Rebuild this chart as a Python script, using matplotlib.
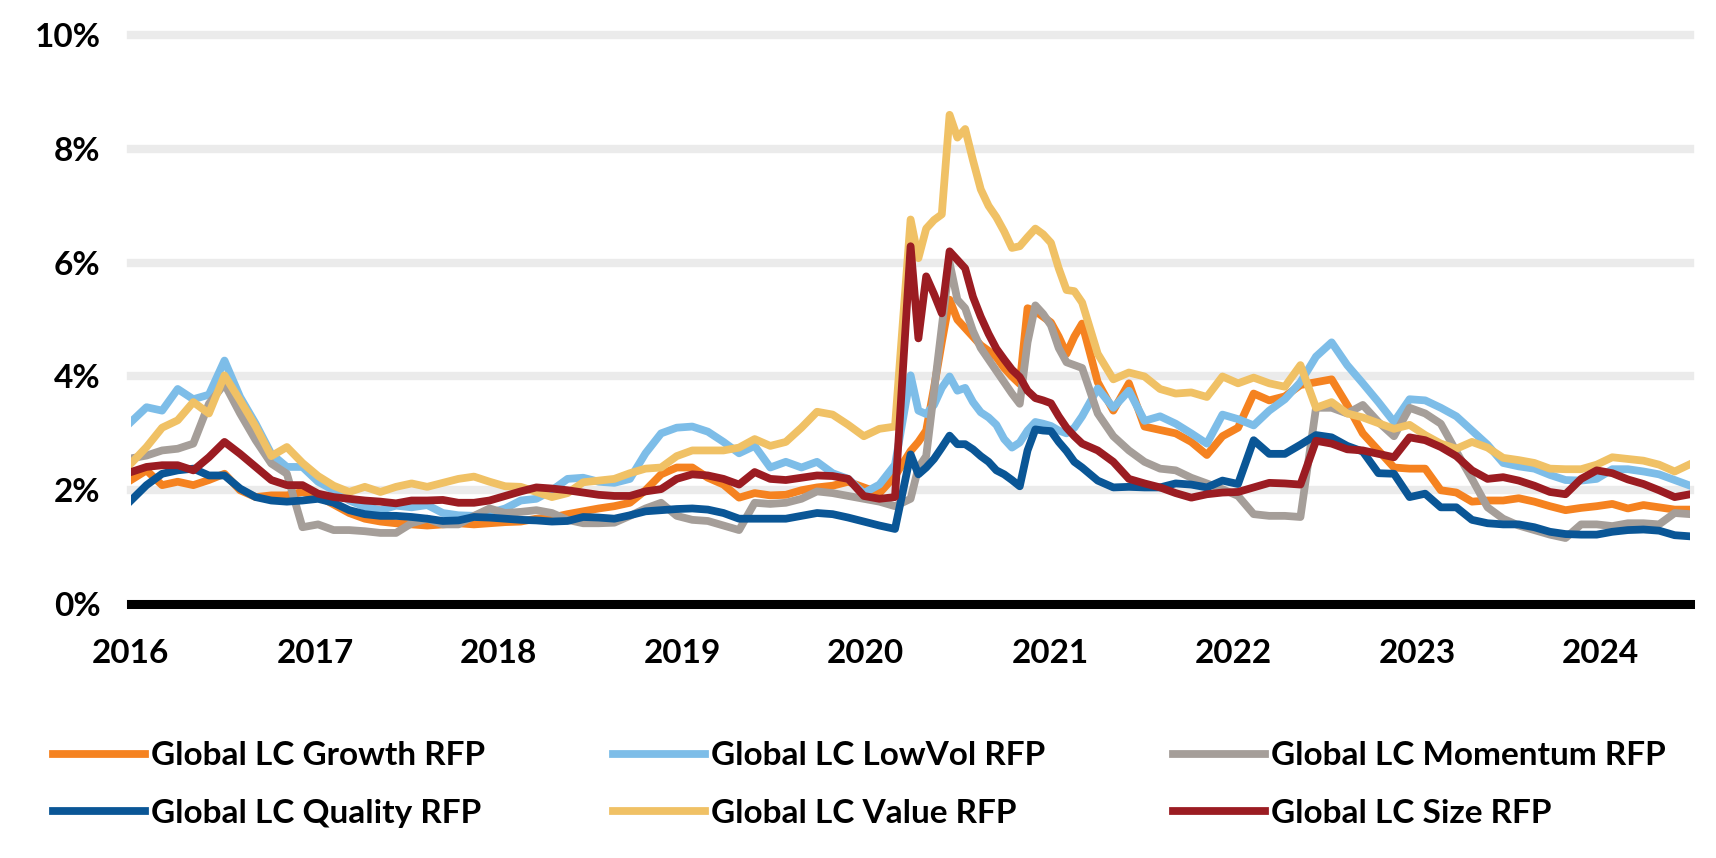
import numpy as np
import pandas as pd
import matplotlib
matplotlib.use("Agg")
import matplotlib.pyplot as plt
import matplotlib.dates as mdates

plt.rcParams["font.family"] = ["Lato", "DejaVu Sans"]
plt.rcParams["font.weight"] = "bold"

# observation steps of 31 days from 1 Jan 2016, half steps around the 2020 spike
steps = (list(range(0, 50))
         + [50, 50.5, 51, 51.5, 52, 52.5, 53, 53.5, 54, 54.5, 55, 55.5,
            56, 56.5, 57, 57.5, 58, 58.5, 59, 59.5, 60, 60.5, 61]
         + list(range(62, 101)))

growth = [
    2.18, 2.35, 2.09, 2.15, 2.09, 2.18, 2.29, 2.00, 1.88, 1.91,
    1.91, 1.97, 1.90, 1.75, 1.60, 1.50, 1.45, 1.42, 1.40, 1.38,
    1.40, 1.42, 1.40, 1.42, 1.44, 1.45, 1.50, 1.52, 1.58, 1.63,
    1.68, 1.72, 1.78, 2.00, 2.28, 2.40, 2.40, 2.22, 2.10, 1.87,
    1.95, 1.91, 1.92, 2.00, 2.05, 2.08, 2.15, 2.05, 1.95, 2.25,
    2.69, 2.85, 3.05, 3.80, 4.60, 5.35, 5.00, 4.85, 4.70, 4.55, 4.45, 4.34,
    4.15, 4.00, 3.87, 5.20, 5.15, 5.05, 4.95, 4.70, 4.40, 4.70, 4.93,
    3.90, 3.40, 3.88, 3.12, 3.06, 3.00, 2.85, 2.62, 2.95, 3.10,
    3.70, 3.58, 3.65, 3.85, 3.90, 3.95, 3.50, 3.00, 2.70, 2.40,
    2.38, 2.38, 2.00, 1.96, 1.80, 1.82, 1.82, 1.86, 1.80, 1.72,
    1.65, 1.69, 1.72, 1.76, 1.68, 1.74, 1.70, 1.66, 1.66]

lowvol = [
    3.20, 3.46, 3.40, 3.78, 3.60, 3.68, 4.28, 3.64, 3.17, 2.64,
    2.41, 2.41, 2.15, 2.00, 1.82, 1.71, 1.65, 1.73, 1.70, 1.74,
    1.60, 1.56, 1.55, 1.60, 1.68, 1.82, 1.85, 2.00, 2.20, 2.22,
    2.15, 2.13, 2.20, 2.65, 3.00, 3.10, 3.12, 3.03, 2.85, 2.65,
    2.78, 2.40, 2.50, 2.40, 2.50, 2.30, 2.20, 1.95, 2.10, 2.45,
    4.02, 3.40, 3.34, 3.50, 3.80, 4.00, 3.75, 3.80, 3.55, 3.37, 3.28, 3.15,
    2.90, 2.75, 2.84, 3.05, 3.20, 3.17, 3.13, 3.05, 3.00, 3.10, 3.30,
    3.79, 3.45, 3.75, 3.22, 3.30, 3.17, 3.00, 2.82, 3.33, 3.25,
    3.14, 3.40, 3.60, 3.90, 4.35, 4.60, 4.20, 3.88, 3.55, 3.20,
    3.60, 3.58, 3.45, 3.30, 3.05, 2.80, 2.48, 2.42, 2.38, 2.27,
    2.18, 2.17, 2.20, 2.37, 2.37, 2.33, 2.28, 2.18, 2.08]

momentum = [
    2.56, 2.61, 2.70, 2.73, 2.82, 3.52, 3.87, 3.35, 2.88, 2.47,
    2.29, 1.35, 1.40, 1.30, 1.30, 1.28, 1.25, 1.25, 1.42, 1.50,
    1.40, 1.40, 1.55, 1.68, 1.60, 1.62, 1.65, 1.60, 1.48, 1.42,
    1.42, 1.43, 1.55, 1.68, 1.78, 1.55, 1.48, 1.46, 1.38, 1.30,
    1.78, 1.76, 1.78, 1.85, 1.98, 1.95, 1.90, 1.85, 1.80, 1.72,
    1.85, 2.40, 2.60, 3.73, 4.87, 6.00, 5.35, 5.20, 4.80, 4.50, 4.30, 4.10,
    3.90, 3.70, 3.52, 4.60, 5.25, 5.10, 4.90, 4.50, 4.25, 4.20, 4.15,
    3.35, 2.95, 2.70, 2.50, 2.38, 2.35, 2.22, 2.12, 2.02, 1.90,
    1.58, 1.55, 1.55, 1.53, 3.45, 3.45, 3.35, 3.50, 3.20, 2.95,
    3.45, 3.35, 3.17, 2.68, 2.20, 1.70, 1.50, 1.38, 1.30, 1.22,
    1.16, 1.40, 1.40, 1.37, 1.42, 1.42, 1.40, 1.60, 1.58]

quality = [
    1.82, 2.09, 2.29, 2.35, 2.38, 2.26, 2.26, 2.03, 1.88, 1.82,
    1.80, 1.82, 1.85, 1.78, 1.65, 1.58, 1.55, 1.55, 1.53, 1.50,
    1.46, 1.47, 1.53, 1.52, 1.50, 1.48, 1.47, 1.45, 1.46, 1.53,
    1.52, 1.50, 1.56, 1.63, 1.65, 1.67, 1.68, 1.66, 1.60, 1.50,
    1.50, 1.50, 1.50, 1.55, 1.60, 1.58, 1.52, 1.45, 1.38, 1.32,
    2.63, 2.28, 2.40, 2.55, 2.75, 2.96, 2.81, 2.81, 2.72, 2.60, 2.50, 2.35,
    2.28, 2.18, 2.07, 2.70, 3.07, 3.05, 3.04, 2.85, 2.69, 2.50, 2.40,
    2.17, 2.05, 2.06, 2.05, 2.05, 2.12, 2.10, 2.05, 2.17, 2.11,
    2.88, 2.64, 2.64, 2.80, 2.97, 2.93, 2.78, 2.68, 2.30, 2.29,
    1.88, 1.94, 1.70, 1.70, 1.48, 1.42, 1.40, 1.40, 1.35, 1.27,
    1.23, 1.22, 1.22, 1.27, 1.30, 1.31, 1.29, 1.21, 1.19]

value = [
    2.47, 2.76, 3.10, 3.23, 3.55, 3.35, 4.02, 3.58, 3.12, 2.60,
    2.76, 2.48, 2.25, 2.08, 1.97, 2.06, 1.97, 2.06, 2.12, 2.06,
    2.13, 2.20, 2.24, 2.15, 2.07, 2.06, 1.97, 1.88, 1.95, 2.14,
    2.17, 2.20, 2.30, 2.38, 2.40, 2.60, 2.70, 2.70, 2.70, 2.75,
    2.90, 2.78, 2.85, 3.10, 3.38, 3.33, 3.15, 2.95, 3.08, 3.12,
    6.76, 6.08, 6.60, 6.75, 6.85, 8.60, 8.20, 8.35, 7.80, 7.29, 7.00, 6.80,
    6.55, 6.26, 6.29, 6.45, 6.60, 6.50, 6.35, 5.90, 5.52, 5.50, 5.30,
    4.40, 3.95, 4.07, 4.00, 3.78, 3.70, 3.72, 3.64, 4.00, 3.88,
    3.98, 3.88, 3.82, 4.20, 3.45, 3.55, 3.35, 3.28, 3.18, 3.08,
    3.15, 2.97, 2.82, 2.73, 2.85, 2.75, 2.57, 2.53, 2.48, 2.38,
    2.37, 2.37, 2.45, 2.58, 2.55, 2.52, 2.45, 2.33, 2.46]

size = [
    2.32, 2.41, 2.44, 2.44, 2.35, 2.58, 2.85, 2.64, 2.41, 2.18,
    2.09, 2.09, 1.94, 1.88, 1.85, 1.82, 1.80, 1.77, 1.82, 1.82,
    1.83, 1.78, 1.78, 1.82, 1.90, 1.98, 2.05, 2.03, 2.00, 1.96,
    1.92, 1.90, 1.90, 1.98, 2.02, 2.20, 2.28, 2.26, 2.20, 2.10,
    2.32, 2.20, 2.18, 2.22, 2.26, 2.25, 2.20, 1.90, 1.85, 1.88,
    6.29, 4.67, 5.76, 5.45, 5.11, 6.20, 6.05, 5.90, 5.40, 5.05, 4.75, 4.49,
    4.30, 4.12, 3.99, 3.75, 3.62, 3.58, 3.53, 3.30, 3.10, 2.95, 2.82,
    2.70, 2.50, 2.20, 2.12, 2.05, 1.95, 1.87, 1.93, 1.96, 1.97,
    2.05, 2.13, 2.12, 2.10, 2.87, 2.82, 2.72, 2.70, 2.64, 2.58,
    2.93, 2.88, 2.76, 2.60, 2.35, 2.20, 2.23, 2.17, 2.08, 1.97,
    1.93, 2.20, 2.35, 2.30, 2.19, 2.11, 2.00, 1.88, 1.93]

names = ["Global LC Growth RFP", "Global LC LowVol RFP", "Global LC Momentum RFP",
         "Global LC Quality RFP", "Global LC Value RFP", "Global LC Size RFP"]
colors = ["#F58220", "#7DBDE8", "#A59E99", "#0A5696", "#F0C165", "#9B1C22"]
ytick_vals = [0, 2, 4, 6, 8, 10]

dates = pd.Timestamp("2016-01-01") + pd.to_timedelta(np.array(steps) * 31, unit="D")

fig = plt.figure(figsize=(17.16, 8.58), dpi=100)
ax = fig.add_axes([0.0763, 0.296, 0.9087, 0.663])

lines = []
for name, vals, col in zip(names, [growth, lowvol, momentum, quality, value, size], colors):
    ln, = ax.plot(dates, vals, color=col, lw=5.6, label=name, zorder=3)
    lines.append(ln)

ax.set_xlim(dates[0], dates[-1])
ax.set_ylim(0, 10)
ax.set_yticks(ytick_vals)
ax.yaxis.set_major_formatter(lambda v, p: f"{v:.0f}%")
ax.xaxis.set_major_locator(mdates.YearLocator())
ax.xaxis.set_major_formatter(mdates.DateFormatter("%Y"))
ax.tick_params(axis="both", length=0, labelsize=24)
ax.tick_params(axis="y", pad=22)
ax.tick_params(axis="x", pad=25)
for s in ax.spines.values():
    s.set_visible(False)

ax.grid(axis="y", color="#EBEBEB", lw=6)
ax.grid(axis="x", visible=False)
ax.set_axisbelow(True)
for gl in ax.get_ygridlines():
    gl.set_clip_on(False)
ax.axhline(0, color="black", lw=6.5, clip_on=False, zorder=2)

# legend: three columns of two entries
col_x = [53, 613, 1173]
col_idx = [[0, 3], [1, 4], [2, 5]]
for x, idx in zip(col_x, col_idx):
    fig.legend([lines[i] for i in idx], [names[i] for i in idx],
               loc="upper left", bbox_to_anchor=(x / 1716, 0.136),
               frameon=False, fontsize=24, handlelength=2.75,
               handletextpad=0.2, labelspacing=0.85,
               borderpad=0, borderaxespad=0)

fig.savefig("out.png", dpi=100)
